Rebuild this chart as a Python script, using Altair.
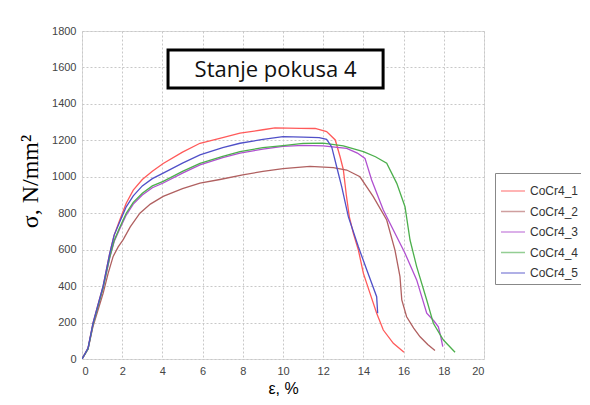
import altair as alt
import pandas as pd

series_names = ["CoCr4_1", "CoCr4_2", "CoCr4_3", "CoCr4_4", "CoCr4_5"]
series_colors = ["#ff5a5a", "#b06060", "#b050d0", "#4caf4c", "#5050c8"]

x1 = [0, 0.3, 0.55, 0.8, 1.05, 1.38, 1.6, 1.87, 2.2, 2.55, 3.0, 3.5, 4.04, 5.0, 5.87, 7.0, 7.86, 9.0, 9.6, 10.85, 11.6, 12.17, 12.6, 12.84, 13.0, 13.15, 13.3, 13.5, 13.75, 14.0, 14.33, 14.66, 14.99, 15.49, 16.02]
y1 = [0, 60, 198, 300, 400, 580, 680, 760, 855, 927, 985, 1030, 1073, 1135, 1184, 1215, 1239, 1258, 1268, 1266, 1265, 1248, 1202, 1110, 1040, 900, 780, 690, 598, 470, 360, 251, 159, 86, 37]

x2 = [0, 0.3, 0.55, 0.8, 1.05, 1.3, 1.55, 1.8, 2.05, 2.4, 2.88, 3.4, 4.04, 5.0, 5.87, 6.86, 8.0, 9.0, 10.0, 11.34, 12.5, 13.17, 13.83, 14.49, 15.16, 15.57, 15.82, 15.91, 16.15, 16.5, 16.82, 17.2, 17.56]
y2 = [0, 55, 180, 270, 360, 470, 563, 615, 655, 725, 800, 850, 892, 935, 965, 985, 1010, 1030, 1045, 1057, 1050, 1037, 1000, 891, 763, 598, 452, 324, 232, 170, 122, 80, 46]

x3 = [0, 0.3, 0.55, 0.8, 1.05, 1.38, 1.6, 1.87, 2.2, 2.55, 3.0, 3.5, 4.04, 5.0, 5.87, 7.0, 7.86, 9.0, 10.0, 11.0, 12.0, 13.17, 13.7, 14.08, 14.41, 14.99, 15.57, 16.07, 16.65, 17.15, 17.5, 17.73, 17.85, 17.95]
y3 = [0, 55, 190, 290, 390, 555, 645, 712, 790, 850, 900, 940, 966, 1020, 1065, 1105, 1130, 1152, 1167, 1172, 1170, 1156, 1130, 1101, 982, 818, 690, 580, 434, 251, 210, 177, 122, 68]

x4 = [0, 0.3, 0.55, 0.8, 1.05, 1.38, 1.6, 1.87, 2.2, 2.55, 3.0, 3.5, 4.04, 5.0, 5.87, 7.0, 7.86, 9.0, 10.0, 11.0, 12.0, 13.0, 14.0, 14.6, 15.16, 15.66, 16.07, 16.32, 16.65, 17.15, 17.48, 17.98, 18.56]
y4 = [0, 55, 190, 290, 390, 560, 650, 720, 800, 860, 910, 950, 975, 1030, 1074, 1112, 1138, 1160, 1171, 1183, 1185, 1170, 1138, 1110, 1074, 964, 836, 653, 507, 324, 196, 104, 37]

x5 = [0, 0.3, 0.55, 0.8, 1.05, 1.38, 1.6, 1.87, 2.2, 2.55, 3.0, 3.5, 4.04, 5.0, 5.87, 7.0, 7.86, 9.0, 10.0, 11.0, 11.8, 12.17, 12.42, 12.67, 12.92, 13.25, 13.75, 14.17, 14.66, 14.71]
y5 = [0, 60, 198, 300, 400, 580, 680, 750, 835, 895, 950, 990, 1020, 1075, 1120, 1160, 1184, 1205, 1220, 1218, 1215, 1205, 1165, 1055, 946, 781, 616, 488, 342, 251]

x_ticks = [0, 2, 4, 6, 8, 10, 12, 14, 16, 18, 20]
y_ticks = [0, 200, 400, 600, 800, 1000, 1200, 1400, 1600, 1800]

box_title = "Stanje pokusa 4"
box_x = [4.28, 14.98]
box_y = [1487, 1696]

rows = []
for name, xs, ys in zip(series_names, [x1, x2, x3, x4, x5], [y1, y2, y3, y4, y5]):
    for i, (xv, yv) in enumerate(zip(xs, ys)):
        rows.append({"series": name, "eps": xv, "sigma": yv, "order": i})
df = pd.DataFrame(rows)

xscale = alt.Scale(domain=[0, 20], nice=False, zero=False)
yscale = alt.Scale(domain=[0, 1800], nice=False, zero=False)

lines = alt.Chart(df).mark_line(strokeWidth=1.3, clip=True).encode(
    x=alt.X("eps:Q", scale=xscale, axis=alt.Axis(
        values=x_ticks, tickCount=30, format="d", labelOverlap=False,
        title="ε, %", titleFont="Liberation Sans", titleFontSize=16,
        titleFontWeight="normal", titleColor="#000", titleX=201, titleY=34,
        titleBaseline="alphabetic", labelFont="Liberation Sans", labelFontSize=11,
        labelColor="#444", labelPadding=6, ticks=False, domain=False,
        grid=True, gridColor="#c8c8c8", gridDash=[2, 2], gridWidth=1)),
    y=alt.Y("sigma:Q", scale=yscale, axis=alt.Axis(
        values=y_ticks, tickCount=30, format="d", labelOverlap=False,
        title="σ, N/mm²", titleFont="Liberation Serif", titleFontSize=24,
        titleFontWeight="normal", titleColor="#000", titleAngle=270, titleX=-45, titleY=150,
        titleAlign="center", titleBaseline="alphabetic",
        labelFont="Liberation Sans", labelFontSize=11, labelColor="#444",
        labelPadding=6, ticks=False, domain=False,
        grid=True, gridColor="#c8c8c8", gridDash=[2, 2], gridWidth=1)),
    color=alt.Color("series:N", scale=alt.Scale(domain=series_names, range=series_colors),
                    legend=alt.Legend(
                        title=None, orient="none", legendX=413, legendY=142,
                        symbolType="stroke", symbolSize=576, symbolStrokeWidth=1.5,
                        symbolOpacity=0.6, labelFont="Liberation Sans", labelFontSize=12,
                        labelColor="#333", labelOffset=4, rowPadding=1.5, padding=5,
                        strokeColor="#888", fillColor="#ffffff")),
    order="order:Q",
    detail="series:N",
)

box_df = pd.DataFrame({"x": [box_x[0]], "x2": [box_x[1]], "y": [box_y[0]], "y2": [box_y[1]],
                       "label": [box_title], "xm": [(box_x[0] + box_x[1]) / 2],
                       "ym": [(box_y[0] + box_y[1]) / 2]})

box = alt.Chart(box_df).mark_rect(fill="white", stroke="black", strokeWidth=3).encode(
    x=alt.X("x:Q", scale=xscale), x2="x2:Q",
    y=alt.Y("y:Q", scale=yscale), y2="y2:Q",
)
box_text = alt.Chart(box_df).mark_text(font="Open Sans", fontSize=22, color="#111",
                                        baseline="middle", align="center", dy=1).encode(
    x=alt.X("xm:Q", scale=xscale), y=alt.Y("ym:Q", scale=yscale), text="label:N",
)

chart = alt.layer(lines, box, box_text).properties(
    width=402, height=328,
    autosize=alt.AutoSizeParams(type="none"),
    padding={"left": 74, "top": 23, "right": 97, "bottom": 38},
).configure_view(stroke="#999", strokeWidth=1).configure(background="white")

chart.save("out.html", embed_options={"renderer": "svg", "actions": False})
